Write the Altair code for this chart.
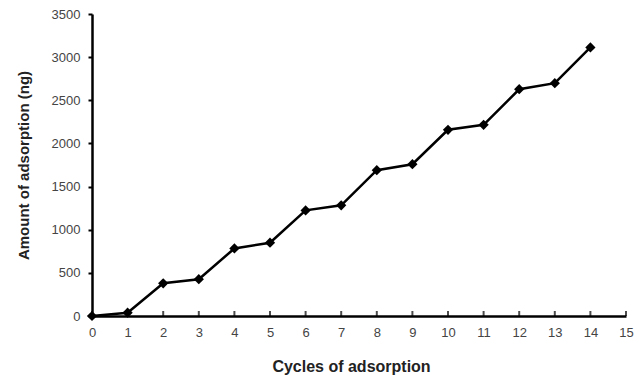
import altair as alt
import pandas as pd

cycles = list(range(15))
amounts = [0, 38, 379, 426, 783, 849, 1224, 1283, 1690, 1759, 2158, 2216, 2628, 2698, 3112]
tick_positions = list(range(16))
y_tick_values = list(range(0, 3501, 500))

df = pd.DataFrame({"cycle": cycles, "amount": amounts})
ticks_df = pd.DataFrame({"cycle": tick_positions, "zero": [0] * len(tick_positions)})

FONT = "Liberation Sans"

x_scale = alt.Scale(domain=[0, 15], nice=False)
y_scale = alt.Scale(domain=[0, 3500], nice=False)

x_axis = alt.Axis(title="Cycles of adsorption", values=tick_positions,
                  tickSize=0, labelPadding=10, titlePadding=19, titleFontSize=16,
                  titleX=259, format="d", labelFlush=False,
                  labelOverlap=False, labelBound=False)
y_axis = alt.Axis(title="Amount of adsorption (ng)", values=y_tick_values,
                  tickSize=4, labelPadding=8, titlePadding=20, format="d",
                  labelFlush=False, labelOverlap=False)

base = alt.Chart(df)

line = base.mark_line(color="black", strokeWidth=2.5).encode(
    x=alt.X("cycle:Q", scale=x_scale, axis=x_axis),
    y=alt.Y("amount:Q", scale=y_scale, axis=y_axis),
)

points = base.mark_point(shape="diamond", filled=True, color="black", size=105, opacity=1).encode(
    x=alt.X("cycle:Q", scale=x_scale, axis=x_axis),
    y=alt.Y("amount:Q", scale=y_scale, axis=y_axis),
)

xticks = alt.Chart(ticks_df).mark_tick(orient="vertical", color="black", size=5,
                                        thickness=2, yOffset=-2.5).encode(
    x=alt.X("cycle:Q", scale=x_scale, axis=x_axis),
    y=alt.Y("zero:Q", scale=y_scale, axis=y_axis),
)

chart = alt.layer(line, xticks, points).properties(
    width=534, height=302,
    autosize=alt.AutoSizeParams(type="none"),
    padding={"left": 84, "top": 6, "right": 8, "bottom": 59},
    background="white",
).configure_view(stroke=None).configure_axis(
    domainColor="black", domainWidth=2.5, tickColor="black", tickWidth=2,
    labelFont=FONT, labelFontSize=13, labelColor="#444",
    titleFont=FONT, titleFontSize=15, titleColor="#222", titleFontWeight="bold",
    grid=False,
)

chart.save("out.html", embed_options={"renderer": "svg", "actions": False})
